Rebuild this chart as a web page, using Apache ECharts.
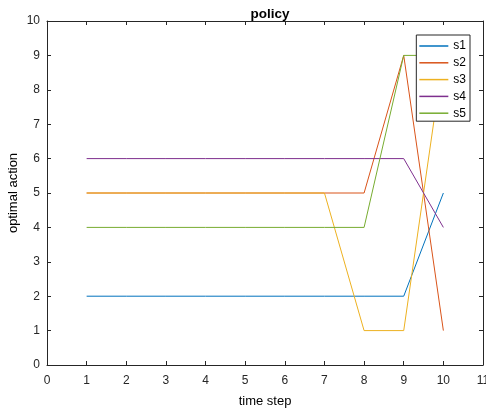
<!DOCTYPE html>
<html><head><meta charset="utf-8">
<script src="https://cdn.jsdelivr.net/npm/echarts@6/dist/echarts.min.js"></script>
<style>html,body{margin:0;padding:0;background:#fff}#c{width:486px;height:411px}</style>
</head><body><div id="c"></div>
<script>
const steps = [1,2,3,4,5,6,7,8,9,10];
const s1 = [2,2,2,2,2,2,2,2,2,5];
const s2 = [5,5,5,5,5,5,5,5,9,1];
const s3 = [5,5,5,5,5,5,5,1,1,9];
const s4 = [6,6,6,6,6,6,6,6,6,4];
const s5 = [4,4,4,4,4,4,4,4,9,9];
const names = ['s1','s2','s3','s4','s5'];
const colors = ['#0072BD','#D95319','#EDB120','#7E2F8E','#77AC30'];
const data = [s1,s2,s3,s4,s5];
const font = 'Liberation Sans, Arial, sans-serif';
const axColor = '#262626';
const chart = echarts.init(document.getElementById('c'));
function ax(pos, show, extra, margin){
  return Object.assign({
    type:'value', position:pos, min:0, interval:1,
    axisLine:{show:true,onZero:false,lineStyle:{color:axColor,width:1}},
    axisTick:{show:true,inside:true,length:4,lineStyle:{color:axColor}},
    axisLabel:{show:show,color:axColor,fontFamily:font,fontSize:12,margin:margin||8},
    splitLine:{show:false}
  }, extra);
}
chart.setOption({
  animation:false,
  title:{text:'policy',left:265,top:2,textAlign:'center',textStyle:{fontFamily:font,fontSize:13.5,fontWeight:'bold',color:'#000'}},
  grid:{left:47,right:3,top:21,bottom:46,outerBoundsMode:'none',containLabel:false},
  legend:{show:true,orient:'vertical',right:16,top:35,itemWidth:29,itemHeight:1.5,itemGap:2.8,
    backgroundColor:'#fff',borderColor:axColor,borderWidth:1,padding:[4,4,1,3],
    textStyle:{fontFamily:font,fontSize:12,lineHeight:14,color:'#000'},icon:'rect',data:names},
  xAxis:[
    ax('bottom',true,{max:11,name:'time step',nameLocation:'middle',nameGap:30,nameMoveOverlap:false,nameTextStyle:{fontFamily:font,fontSize:13,color:'#000'}},10),
    ax('top',false,{max:11})
  ],
  yAxis:[
    ax('left',true,{max:10,name:'optimal action',nameLocation:'middle',nameGap:27,nameMoveOverlap:false,nameTextStyle:{fontFamily:font,fontSize:13,color:'#000'}},7),
    ax('right',false,{max:10})
  ],
  series: names.map((n,i)=>({
    name:n,type:'line',xAxisIndex:0,yAxisIndex:0,
    data:steps.map((x,j)=>[x,data[i][j]]),
    showSymbol:false,symbol:'none',
    lineStyle:{color:colors[i],width:1},itemStyle:{color:colors[i]},
    emphasis:{disabled:true}
  }))
});
</script></body></html>
